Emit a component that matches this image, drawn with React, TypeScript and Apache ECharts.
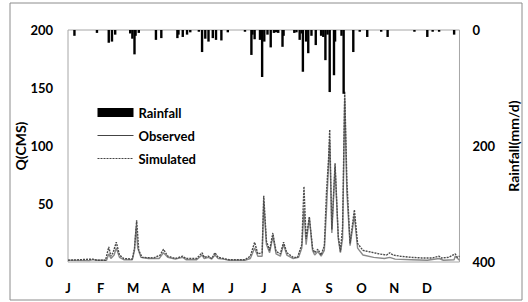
import React, { useEffect, useRef } from "react";
import * as echarts from "echarts";

const monthLabels = ["J", "F", "M", "A", "M", "J", "J", "A", "S", "O", "N", "D"];

// [day of year, mm/d]
const rainfall: [number, number][] = [
  [6, 10], [27, 5], [38, 22], [41, 20], [44, 8], [58, 6], [60, 15], [62, 42], [63, 10], [66, 5],
  [82, 17], [87, 14], [102, 14], [103, 8], [107, 12], [111, 8], [114, 4], [122, 3], [125, 38],
  [128, 15], [131, 20], [135, 14], [138, 17], [143, 18], [149, 4], [165, 3], [171, 43], [172, 8],
  [174, 16], [179, 17], [181, 81], [183, 20], [186, 8], [189, 30], [192, 5], [194, 4], [196, 5],
  [200, 29], [201, 10], [211, 5], [213, 4], [216, 17], [218, 6], [219, 72], [222, 20], [224, 40],
  [227, 10], [231, 26], [236, 10], [238, 12], [240, 52], [242, 8], [244, 107], [248, 78],
  [249, 20], [255, 10], [257, 110], [266, 38], [272, 3], [279, 12], [292, 3], [298, 12],
  [323, 3], [335, 12], [340, 3], [346, 3], [360, 8],
];

// [day of year, m3/s]
const observed: [number, number][] = [
  [0, 1.5], [20, 1.2], [23, 2], [27, 1.5], [36, 1.5], [38, 7], [40, 3], [43, 6], [45, 12], [48, 4],
  [52, 2], [60, 2], [62, 10], [63.5, 30], [65, 12], [68, 4], [75, 3], [85, 3], [89, 8], [93, 4],
  [100, 2.5], [107, 4], [110, 2], [120, 2], [125, 6], [127, 3], [131, 4], [134, 2.5], [137, 6],
  [140, 3], [145, 2.5], [150, 1.5], [165, 1.5], [170, 3], [174, 12], [177, 5], [181, 5],
  [182.5, 52], [185, 15], [188, 8], [191, 22], [194, 7], [198, 5], [201, 15], [204, 6], [210, 3],
  [215, 4], [218, 12], [220, 45], [222, 15], [225, 38], [228, 10], [230, 6], [233, 9], [236, 5],
  [239, 10], [241, 45], [244, 105], [246, 25], [249, 82], [252, 20], [254, 8], [256, 20],
  [258, 140], [260, 60], [263, 14], [267, 40], [270, 12], [275, 6], [285, 4], [295, 3], [300, 4],
  [305, 2.5], [320, 2], [335, 1.5], [346, 3], [350, 1.5], [360, 2], [361, 5], [365, 1.5],
];

const simulated: [number, number][] = [
  [0, 1.5], [23, 2.5], [27, 1.5], [35, 1.5], [38, 13], [40, 5], [42, 8], [45, 17], [48, 6],
  [52, 3], [60, 2.5], [62, 12], [64, 36], [66, 10], [69, 4], [80, 3.5], [86, 6], [89, 11], [93, 5],
  [100, 3], [107, 5], [110, 3], [120, 3], [125, 8], [127, 4], [131, 5], [134, 3], [137, 8],
  [140, 4], [145, 3], [150, 2], [165, 2], [170, 5], [174, 17], [177, 7], [181, 8], [182.5, 57],
  [185, 18], [188, 10], [191, 25], [194, 9], [198, 7], [201, 17], [204, 8], [210, 4], [214, 4],
  [218, 15], [220, 65], [222, 20], [225, 39], [228, 12], [230, 8], [233, 11], [236, 6], [239, 14],
  [241, 60], [243, 90], [244, 114], [246, 28], [249, 85], [252, 22], [254, 9], [256, 30],
  [258, 147], [260, 70], [263, 16], [267, 45], [270, 16], [275, 10], [280, 9], [290, 7],
  [297, 6], [300, 8], [303, 6], [310, 5], [320, 4], [330, 3.5], [340, 3.5], [346, 5], [348, 3.5],
  [355, 4], [361, 7], [363, 4], [365, 5],
];

const qTicks = [0, 50, 100, 150, 200];
const rainTicks = [0, 200, 400];

const FONT = "Lato, 'Open Sans', sans-serif";

export default function App() {
  const ref = useRef<HTMLDivElement>(null);
  useEffect(() => {
    if (!ref.current) return;
    const chart = echarts.init(ref.current, undefined, { renderer: "svg" });
    const monthStep = 365 / 12;
    chart.setOption({
      animation: false,
      backgroundColor: "#ffffff",
      textStyle: { fontFamily: FONT },
      graphic: [
        {
          type: "rect",
          shape: { x: 10, y: 3, width: 512, height: 297 },
          style: { fill: "none", stroke: "#8c8c8c", lineWidth: 1 },
          silent: true,
        },
      ],
      grid: {
        left: 68,
        right: 64,
        top: 30,
        bottom: 40,
        show: true,
        borderColor: "#a6a6a6",
        borderWidth: 1,
        backgroundColor: "transparent",
      },
      legend: {
        orient: "vertical",
        left: 97,
        top: 106,
        padding: 0,
        itemWidth: 36,
        itemHeight: 9,
        itemGap: 10,
        textStyle: { fontFamily: FONT, fontWeight: "bold", fontSize: 13, color: "#000" },
        data: [
          { name: "Rainfall", icon: "rect" },
          { name: "Observed", itemStyle: { opacity: 0 }, lineStyle: { color: "#444", width: 1 } },
          { name: "Simulated", itemStyle: { opacity: 0 }, lineStyle: { color: "#444", width: 1 } },
        ],
      },
      xAxis: {
        type: "value",
        min: 0,
        max: 365,
        interval: monthStep,
        axisLine: { show: false },
        axisTick: { show: false },
        splitLine: { show: false },
        axisLabel: {
          margin: 19,
          fontFamily: FONT,
          fontWeight: "bold",
          fontSize: 13,
          color: "#000",
          showMaxLabel: false,
          formatter: (v: number) => {
            const i = Math.round(v / monthStep);
            return monthLabels[i] ?? "";
          },
        },
      },
      yAxis: [
        {
          type: "value",
          min: qTicks[0],
          max: qTicks[qTicks.length - 1],
          interval: 50,
          name: "Q(CMS)",
          nameLocation: "middle",
          nameRotate: 90,
          nameGap: 41,
          nameMoveOverlap: false,
          nameTextStyle: { fontFamily: FONT, fontWeight: "bold", fontSize: 14, color: "#000" },
          axisLine: { show: false },
          axisTick: { show: false },
          splitLine: { show: false },
          axisLabel: { margin: 15, fontFamily: FONT, fontWeight: "bold", fontSize: 13, color: "#000" },
        },
        {
          type: "value",
          min: rainTicks[0],
          max: rainTicks[rainTicks.length - 1],
          interval: 200,
          inverse: true,
          position: "right",
          name: "Rainfall(mm/d)",
          nameLocation: "middle",
          nameRotate: 90,
          nameGap: 40,
          nameTextStyle: { fontFamily: FONT, fontWeight: "bold", fontSize: 14, color: "#000" },
          axisLine: { show: false },
          axisTick: { show: false },
          splitLine: { show: false },
          axisLabel: { margin: 13, fontFamily: FONT, fontWeight: "bold", fontSize: 13, color: "#000" },
        },
      ],
      series: [
        {
          name: "Observed",
          type: "line",
          yAxisIndex: 0,
          data: observed,
          symbol: "none",
          lineStyle: { color: "#8a8a8a", width: 1.4 },
          itemStyle: { color: "#8a8a8a" },
          z: 2,
        },
        {
          name: "Simulated",
          type: "line",
          yAxisIndex: 0,
          data: simulated,
          symbol: "none",
          lineStyle: { color: "#4a4a4a", width: 1.4, type: [2, 1] },
          itemStyle: { color: "#4a4a4a" },
          z: 3,
        },
        {
          name: "Rainfall",
          type: "bar",
          yAxisIndex: 1,
          data: rainfall,
          barWidth: 2.4,
          itemStyle: { color: "#000" },
          z: 4,
        },
      ],
    });
    return () => chart.dispose();
  }, []);
  return (
    <div
      ref={ref}
      style={{ position: "fixed", left: 0, top: 0, width: 528, height: 302 }}
    />
  );
}
